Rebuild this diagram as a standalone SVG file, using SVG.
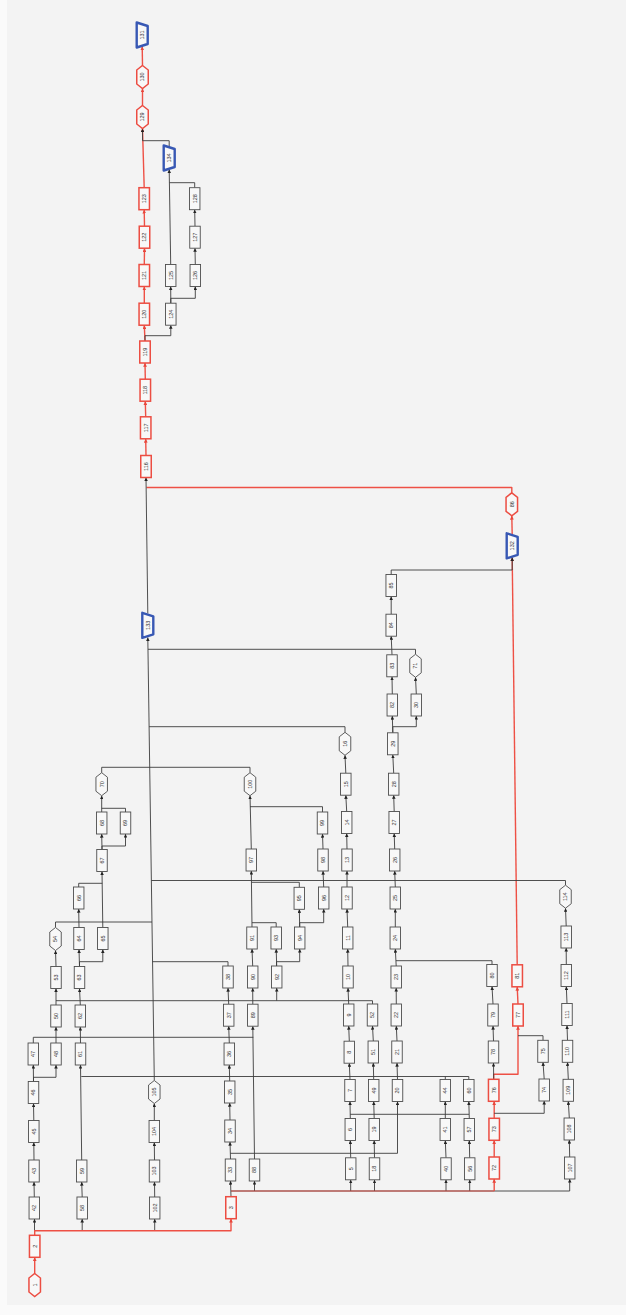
<svg xmlns="http://www.w3.org/2000/svg" xmlns:xlink="http://www.w3.org/1999/xlink" width="626" height="1315" viewBox="0 0 626 1315">
<style>
.e{fill:none;stroke:#3c3c3c;stroke-width:.9;stroke-linejoin:round;marker-end:url(#ak)}
.j{fill:none;stroke:#3c3c3c;stroke-width:.9;stroke-linejoin:round}
.re{fill:none;stroke:#ee5045;stroke-width:1.4;stroke-linejoin:round;marker-end:url(#ar)}
.rj{fill:none;stroke:#ee5045;stroke-width:1.4;stroke-linejoin:round}
.nb{fill:#f8f8f8;stroke:#4d4d4d;stroke-width:.9}
.nr{fill:#f8f8f8;stroke:#ec4d42;stroke-width:1.5}
.nt{fill:#f8f8f8;stroke:#3858b4;stroke-width:2.4;stroke-linejoin:round}
text{font-family:"Liberation Sans",Arial,sans-serif;font-size:5.5px;fill:#333;text-anchor:middle}
</style>
<defs>
<marker id="ak" viewBox="0 0 6 6" refX="6" refY="3" markerWidth="3.6" markerHeight="3.6" markerUnits="userSpaceOnUse" orient="auto"><path d="M0,0 L6,3 L0,6 z" fill="#222"/></marker>
<marker id="ar" viewBox="0 0 6 6" refX="6" refY="3" markerWidth="3.8" markerHeight="3.8" markerUnits="userSpaceOnUse" orient="auto"><path d="M0,0 L6,3 L0,6 z" fill="#e8463b"/></marker>
<rect id="bx" x="-5.25" y="-11" width="10.5" height="22"/>
<polygon id="hx" points="0,-11.5 5.75,-7 5.75,7 0,11.5 -5.75,7 -5.75,-7"/>
<polygon id="tp" points="-5.5,-12.5 5.5,-9 5.5,9 -5.5,12.5"/>
</defs>
<rect width="626" height="1315" fill="#fafafa"/>
<rect x="7" y="0" width="619" height="1305" fill="#f3f3f3"/>
<g id="connectors">
<!-- red path -->
<path class="re" d="M34.7,1273.5 V1257.3"/>
<path class="e" d="M34.5,1230.7 V1219"/>
<path class="e" d="M82.2,1230.7 V1219"/>
<path class="e" d="M154.7,1230.7 V1219"/>
<path class="re" d="M34.7,1235.3 V1230.7 H231 V1218.7"/>
<path class="e" d="M231,1196.7 L230.5,1181"/>
<path class="e" d="M231,1191 H569.7 V1179"/>
<path class="e" d="M254.5,1191 V1181"/>
<path class="e" d="M350.7,1191 V1179.8"/>
<path class="e" d="M374.5,1191 V1179.8"/>
<path class="e" d="M446,1191 V1179.8"/>
<path class="e" d="M469.7,1191 V1179.8"/>
<path d="M231,1191 H494.2" fill="none" stroke="#e8463b" stroke-width="1.3" stroke-opacity=".55"/>
<path class="re" d="M494.2,1191 V1179"/>
<path class="re" d="M494.2,1157 V1140.3"/>
<path class="re" d="M494.2,1118.3 V1101.3"/>
<path class="re" d="M493.7,1079.3 V1074.3 H518 V1026"/>
<path class="re" d="M518,1004 L517.2,986.8"/>
<path class="re" d="M517.2,964.8 L512.2,557.5"/>
<path class="re" d="M512.2,534.8 L511.8,515.8"/>
<path class="rj" d="M511.8,492.8 V487.5 H146.5"/>
<path class="re" d="M146,455.5 L145.7,438.8"/>
<path class="re" d="M145.7,416.8 L145.3,401.2"/>
<path class="re" d="M145.3,379.2 L145,363"/>
<path class="re" d="M145,341 L144.3,325.2"/>
<path class="re" d="M144.3,303.2 V286.5"/>
<path class="re" d="M144.3,264.5 L144.5,248.2"/>
<path class="re" d="M144.5,226.2 L144.2,209.7"/>
<path class="re" d="M144.2,187.7 L142.5,128.5"/>
<path class="re" d="M142.5,105.5 V88.5"/>
<path class="re" d="M142.5,65.5 L142.2,46.5"/>
<!-- column 34 / 56 / 80 / 102 -->
<path class="e" d="M34.3,1197 L34,1182"/>
<path class="e" d="M34,1160 L33.8,1142.5"/>
<path class="e" d="M33.8,1120.5 L33.5,1103.5"/>
<path class="e" d="M33.5,1081.5 L33.3,1065"/>
<path class="e" d="M33.5,1081.5 V1077.3 H56 V1065"/>
<path class="j" d="M33.3,1043 V1037.3 H253.3"/>
<path class="e" d="M56,1043 V1027"/>
<path class="e" d="M56,1005 V988.5"/>
<path class="j" d="M372.5,1004 V1000.7 H56"/>
<path class="e" d="M276.7,1000.7 V988"/>
<path class="e" d="M56,966.5 L55.5,950.5"/>
<path class="j" d="M55.5,927.5 V922 H152"/>
<path class="e" d="M82.2,1197 L81.7,1182"/>
<path class="e" d="M81.7,1160 L80.5,1065"/>
<path class="j" d="M468.8,1079.5 V1076.5 H81.3 M445.3,1079.5 V1076.5"/>
<path class="e" d="M80.5,1043 L80.3,1027"/>
<path class="e" d="M80.3,1005 L79.5,988.5"/>
<path class="e" d="M79.5,966.5 L79,949.5"/>
<path class="e" d="M79.5,966.5 V961.7 H102.8 V949.5"/>
<path class="e" d="M79,927.5 L78.7,909"/>
<path class="j" d="M78.7,887 V883.3 H102.3"/>
<path class="e" d="M102.8,927.5 L102,871.5"/>
<path class="e" d="M102,849.5 L101.7,834"/>
<path class="e" d="M102,849.5 V846 H125.5 V834"/>
<path class="e" d="M101.7,812 V795.7"/>
<path class="j" d="M125.5,812 V808.3 H101.7"/>
<path class="j" d="M101.7,772.7 V767.3 H250 V772.7"/>
<!-- main column -->
<path class="e" d="M154.7,1197 L154.5,1182"/>
<path class="e" d="M154.5,1160 L154.3,1142.5"/>
<path class="e" d="M154.3,1120.5 V1103.5"/>
<path class="e" d="M154.3,1080.5 L147.8,637.5"/>
<path class="e" d="M147.8,613.5 L146,477.5"/>
<path class="j" d="M415.5,654.3 V649.3 H148"/>
<path class="j" d="M345,732.3 V726.7 H149.1"/>
<path class="j" d="M565.5,885.2 V880.5 H151.4"/>
<path class="j" d="M228,966 V961.7 H152.6"/>
<!-- column 230 / 254 / 276 / 299 / 323 -->
<path class="e" d="M230.5,1159 L230,1142"/>
<path class="e" d="M230.3,1153.3 H397.5 V1101.5"/>
<path class="e" d="M230,1120 L229.7,1103"/>
<path class="e" d="M229.7,1081 L229.3,1065"/>
<path class="e" d="M229.3,1043 L228.7,1026.2"/>
<path class="e" d="M228.7,1004.2 L228,988"/>
<path class="e" d="M254.5,1159 L252.8,1026.2"/>
<path class="e" d="M252.8,1004.2 L252.7,988"/>
<path class="e" d="M252.7,966 L252,949"/>
<path class="e" d="M252,927 L251.3,871"/>
<path class="j" d="M276.2,927 V922.7 H252"/>
<path class="j" d="M299.3,887.3 V882.3 H251.6"/>
<path class="e" d="M251.3,849 L250,795.7"/>
<path class="e" d="M276.7,966 L276.2,949"/>
<path class="e" d="M276.5,966 V961.7 H299.7 V949"/>
<path class="e" d="M299.7,927 L299.3,909.3"/>
<path class="e" d="M299.7,927 V922.7 H323.7 V909"/>
<path class="e" d="M323.7,887 L323,871"/>
<path class="e" d="M323,849 L322.5,834"/>
<path class="j" d="M322.5,812 V806.7 H250"/>
<!-- column 348 -->
<path class="e" d="M350.7,1157.8 L350.3,1140.5"/>
<path class="e" d="M350.3,1118.5 L350,1101.5"/>
<path class="j" d="M350.2,1114.3 H469"/>
<path class="e" d="M350,1079.5 L349.3,1063.2"/>
<path class="e" d="M349.3,1041.2 L348.7,1026"/>
<path class="e" d="M348.7,1004 L348,988"/>
<path class="e" d="M348,966 L347.7,949"/>
<path class="e" d="M347.7,927 L347,909"/>
<path class="e" d="M347,887 V871"/>
<path class="e" d="M347,849 L346.7,833.5"/>
<path class="e" d="M346.7,811.5 L345.8,795.2"/>
<path class="e" d="M345.8,773.2 L345,755.3"/>
<!-- column 373 -->
<path class="e" d="M374.5,1157.8 L374.2,1140.5"/>
<path class="e" d="M374.2,1118.5 L373.7,1101.5"/>
<path class="e" d="M373.7,1079.5 L373.3,1063"/>
<path class="e" d="M373.3,1041 L372.5,1026"/>
<!-- column 396 -->
<path class="e" d="M397.5,1079.5 L397,1063"/>
<path class="e" d="M397,1041 L396.3,1026"/>
<path class="e" d="M396.3,1004 L396.2,988"/>
<path class="e" d="M396.2,966 L395.3,949"/>
<path class="j" d="M492,964.5 V960.7 H396"/>
<path class="e" d="M395.3,927 V909"/>
<path class="e" d="M395.3,887 L394.7,871"/>
<path class="e" d="M394.7,849 L394.2,833.5"/>
<path class="e" d="M394.2,811.5 L393.7,795.2"/>
<path class="e" d="M393.7,773.2 L392.8,754.8"/>
<path class="e" d="M392.8,732.8 L392.3,716"/>
<path class="e" d="M392.8,732.8 V726.7 H416.3 V716"/>
<path class="e" d="M392.3,694 L392,676.8"/>
<path class="e" d="M392,654.8 L391.2,636.2"/>
<path class="e" d="M391.2,614.2 V596.5"/>
<path class="e" d="M391.2,574.5 V570 H512.2 V557.5"/>
<path class="e" d="M416.3,694 L415.5,677.3"/>
<!-- column 445 / 469 -->
<path class="e" d="M446,1157.8 L445.3,1140.5"/>
<path class="e" d="M445.3,1118.5 V1101.5"/>
<path class="e" d="M469.7,1157.8 L469.3,1140.5"/>
<path class="e" d="M469.3,1118.5 L468.8,1101.5"/>
<!-- column 494 / 543 -->
<path class="e" d="M494.2,1113.3 H544.2 V1101"/>
<path class="e" d="M544.2,1079 L543,1062.3"/>
<path class="j" d="M543,1040.3 V1035.7 H518"/>
<path class="e" d="M493.7,1079.3 L493.5,1063"/>
<path class="e" d="M493.5,1041 L493,1026"/>
<path class="e" d="M493,1004 L492,986.5"/>
<!-- column 567 -->
<path class="e" d="M569.7,1157 L569.3,1140"/>
<path class="e" d="M569.3,1118 L568.3,1101.3"/>
<path class="e" d="M568.3,1079.3 L567.5,1062.3"/>
<path class="e" d="M567.5,1040.3 L567,1025.5"/>
<path class="e" d="M567,1003.5 L566.3,986.5"/>
<path class="e" d="M566.3,964.5 L566.2,948"/>
<path class="e" d="M566.2,926 L565.5,908.2"/>
<!-- top area -->
<path class="e" d="M169.2,147 V140.7 H142.5 V128.5"/>
<path class="e" d="M145,341 V335.7 H170.8 V325.2"/>
<path class="e" d="M170.8,303.2 L170.7,286.5"/>
<path class="e" d="M170.8,303.2 V298.3 H195.3 V286.5"/>
<path class="e" d="M195.3,264.5 L195,248.2"/>
<path class="e" d="M195,226.2 L194.7,209.7"/>
<path class="j" d="M194.7,187.7 V182.7 H169.5"/>
<path class="e" d="M170.7,264.5 L169.2,169.5"/>
</g>
<g id="nodes">
<g id="n1" transform="translate(34.7,1285)"><use href="#hx" class="nr"/><text transform="rotate(-90)" y="1.9">1</text></g>
<g id="n2" transform="translate(34.7,1246.3)"><use href="#bx" class="nr"/><text transform="rotate(-90)" y="1.9">2</text></g>
<g id="n3" transform="translate(231,1207.7)"><use href="#bx" class="nr"/><text transform="rotate(-90)" y="1.9">3</text></g>
<g id="n42" transform="translate(34.3,1208)"><use href="#bx" class="nb"/><text transform="rotate(-90)" y="1.9">42</text></g>
<g id="n43" transform="translate(34,1171)"><use href="#bx" class="nb"/><text transform="rotate(-90)" y="1.9">43</text></g>
<g id="n45" transform="translate(33.8,1131.5)"><use href="#bx" class="nb"/><text transform="rotate(-90)" y="1.9">45</text></g>
<g id="n46" transform="translate(33.5,1092.5)"><use href="#bx" class="nb"/><text transform="rotate(-90)" y="1.9">46</text></g>
<g id="n47" transform="translate(33.3,1054)"><use href="#bx" class="nb"/><text transform="rotate(-90)" y="1.9">47</text></g>
<g id="n48" transform="translate(56,1054)"><use href="#bx" class="nb"/><text transform="rotate(-90)" y="1.9">48</text></g>
<g id="n50" transform="translate(56,1016)"><use href="#bx" class="nb"/><text transform="rotate(-90)" y="1.9">50</text></g>
<g id="n53" transform="translate(56,977.5)"><use href="#bx" class="nb"/><text transform="rotate(-90)" y="1.9">53</text></g>
<g id="n54" transform="translate(55.5,939)"><use href="#hx" class="nb"/><text transform="rotate(-90)" y="1.9">54</text></g>
<g id="n58" transform="translate(82.2,1208)"><use href="#bx" class="nb"/><text transform="rotate(-90)" y="1.9">58</text></g>
<g id="n59" transform="translate(81.7,1171)"><use href="#bx" class="nb"/><text transform="rotate(-90)" y="1.9">59</text></g>
<g id="n61" transform="translate(80.5,1054)"><use href="#bx" class="nb"/><text transform="rotate(-90)" y="1.9">61</text></g>
<g id="n62" transform="translate(80.3,1016)"><use href="#bx" class="nb"/><text transform="rotate(-90)" y="1.9">62</text></g>
<g id="n63" transform="translate(79.5,977.5)"><use href="#bx" class="nb"/><text transform="rotate(-90)" y="1.9">63</text></g>
<g id="n64" transform="translate(79,938.5)"><use href="#bx" class="nb"/><text transform="rotate(-90)" y="1.9">64</text></g>
<g id="n66" transform="translate(78.7,898)"><use href="#bx" class="nb"/><text transform="rotate(-90)" y="1.9">66</text></g>
<g id="n65" transform="translate(102.8,938.5)"><use href="#bx" class="nb"/><text transform="rotate(-90)" y="1.9">65</text></g>
<g id="n67" transform="translate(102,860.5)"><use href="#bx" class="nb"/><text transform="rotate(-90)" y="1.9">67</text></g>
<g id="n68" transform="translate(101.7,823)"><use href="#bx" class="nb"/><text transform="rotate(-90)" y="1.9">68</text></g>
<g id="n69" transform="translate(125.5,823)"><use href="#bx" class="nb"/><text transform="rotate(-90)" y="1.9">69</text></g>
<g id="n70" transform="translate(101.7,784.2)"><use href="#hx" class="nb"/><text transform="rotate(-90)" y="1.9">70</text></g>
<g id="n102" transform="translate(154.7,1208)"><use href="#bx" class="nb"/><text transform="rotate(-90)" y="1.9">102</text></g>
<g id="n103" transform="translate(154.5,1171)"><use href="#bx" class="nb"/><text transform="rotate(-90)" y="1.9">103</text></g>
<g id="n104" transform="translate(154.3,1131.5)"><use href="#bx" class="nb"/><text transform="rotate(-90)" y="1.9">104</text></g>
<g id="n105" transform="translate(154.3,1092)"><use href="#hx" class="nb"/><text transform="rotate(-90)" y="1.9">105</text></g>
<g id="n33" transform="translate(230.5,1170)"><use href="#bx" class="nb"/><text transform="rotate(-90)" y="1.9">33</text></g>
<g id="n34" transform="translate(230,1131)"><use href="#bx" class="nb"/><text transform="rotate(-90)" y="1.9">34</text></g>
<g id="n35" transform="translate(229.7,1092)"><use href="#bx" class="nb"/><text transform="rotate(-90)" y="1.9">35</text></g>
<g id="n36" transform="translate(229.3,1054)"><use href="#bx" class="nb"/><text transform="rotate(-90)" y="1.9">36</text></g>
<g id="n37" transform="translate(228.7,1015.2)"><use href="#bx" class="nb"/><text transform="rotate(-90)" y="1.9">37</text></g>
<g id="n38" transform="translate(228,977)"><use href="#bx" class="nb"/><text transform="rotate(-90)" y="1.9">38</text></g>
<g id="n88" transform="translate(254.5,1170)"><use href="#bx" class="nb"/><text transform="rotate(-90)" y="1.9">88</text></g>
<g id="n89" transform="translate(252.8,1015.2)"><use href="#bx" class="nb"/><text transform="rotate(-90)" y="1.9">89</text></g>
<g id="n90" transform="translate(252.7,977)"><use href="#bx" class="nb"/><text transform="rotate(-90)" y="1.9">90</text></g>
<g id="n91" transform="translate(252,938)"><use href="#bx" class="nb"/><text transform="rotate(-90)" y="1.9">91</text></g>
<g id="n97" transform="translate(251.3,860)"><use href="#bx" class="nb"/><text transform="rotate(-90)" y="1.9">97</text></g>
<g id="n100" transform="translate(250,784.2)"><use href="#hx" class="nb"/><text transform="rotate(-90)" y="1.9">100</text></g>
<g id="n92" transform="translate(276.7,977)"><use href="#bx" class="nb"/><text transform="rotate(-90)" y="1.9">92</text></g>
<g id="n93" transform="translate(276.2,938)"><use href="#bx" class="nb"/><text transform="rotate(-90)" y="1.9">93</text></g>
<g id="n94" transform="translate(299.7,938)"><use href="#bx" class="nb"/><text transform="rotate(-90)" y="1.9">94</text></g>
<g id="n95" transform="translate(299.3,898.3)"><use href="#bx" class="nb"/><text transform="rotate(-90)" y="1.9">95</text></g>
<g id="n96" transform="translate(323.7,898)"><use href="#bx" class="nb"/><text transform="rotate(-90)" y="1.9">96</text></g>
<g id="n98" transform="translate(323,860)"><use href="#bx" class="nb"/><text transform="rotate(-90)" y="1.9">98</text></g>
<g id="n99" transform="translate(322.5,823)"><use href="#bx" class="nb"/><text transform="rotate(-90)" y="1.9">99</text></g>
<g id="n5" transform="translate(350.7,1168.8)"><use href="#bx" class="nb"/><text transform="rotate(-90)" y="1.9">5</text></g>
<g id="n6" transform="translate(350.3,1129.5)"><use href="#bx" class="nb"/><text transform="rotate(-90)" y="1.9">6</text></g>
<g id="n7" transform="translate(350,1090.5)"><use href="#bx" class="nb"/><text transform="rotate(-90)" y="1.9">7</text></g>
<g id="n8" transform="translate(349.3,1052.2)"><use href="#bx" class="nb"/><text transform="rotate(-90)" y="1.9">8</text></g>
<g id="n9" transform="translate(348.7,1015)"><use href="#bx" class="nb"/><text transform="rotate(-90)" y="1.9">9</text></g>
<g id="n10" transform="translate(348,977)"><use href="#bx" class="nb"/><text transform="rotate(-90)" y="1.9">10</text></g>
<g id="n11" transform="translate(347.7,938)"><use href="#bx" class="nb"/><text transform="rotate(-90)" y="1.9">11</text></g>
<g id="n12" transform="translate(347,898)"><use href="#bx" class="nb"/><text transform="rotate(-90)" y="1.9">12</text></g>
<g id="n13" transform="translate(347,860)"><use href="#bx" class="nb"/><text transform="rotate(-90)" y="1.9">13</text></g>
<g id="n14" transform="translate(346.7,822.5)"><use href="#bx" class="nb"/><text transform="rotate(-90)" y="1.9">14</text></g>
<g id="n15" transform="translate(345.8,784.2)"><use href="#bx" class="nb"/><text transform="rotate(-90)" y="1.9">15</text></g>
<g id="n16" transform="translate(345,743.8)"><use href="#hx" class="nb"/><text transform="rotate(-90)" y="1.9">16</text></g>
<g id="n18" transform="translate(374.5,1168.8)"><use href="#bx" class="nb"/><text transform="rotate(-90)" y="1.9">18</text></g>
<g id="n19" transform="translate(374.2,1129.5)"><use href="#bx" class="nb"/><text transform="rotate(-90)" y="1.9">19</text></g>
<g id="n49" transform="translate(373.7,1090.5)"><use href="#bx" class="nb"/><text transform="rotate(-90)" y="1.9">49</text></g>
<g id="n51" transform="translate(373.3,1052)"><use href="#bx" class="nb"/><text transform="rotate(-90)" y="1.9">51</text></g>
<g id="n52" transform="translate(372.5,1015)"><use href="#bx" class="nb"/><text transform="rotate(-90)" y="1.9">52</text></g>
<g id="n20" transform="translate(397.5,1090.5)"><use href="#bx" class="nb"/><text transform="rotate(-90)" y="1.9">20</text></g>
<g id="n21" transform="translate(397,1052)"><use href="#bx" class="nb"/><text transform="rotate(-90)" y="1.9">21</text></g>
<g id="n22" transform="translate(396.3,1015)"><use href="#bx" class="nb"/><text transform="rotate(-90)" y="1.9">22</text></g>
<g id="n23" transform="translate(396.2,977)"><use href="#bx" class="nb"/><text transform="rotate(-90)" y="1.9">23</text></g>
<g id="n24" transform="translate(395.3,938)"><use href="#bx" class="nb"/><text transform="rotate(-90)" y="1.9">24</text></g>
<g id="n25" transform="translate(395.3,898)"><use href="#bx" class="nb"/><text transform="rotate(-90)" y="1.9">25</text></g>
<g id="n26" transform="translate(394.7,860)"><use href="#bx" class="nb"/><text transform="rotate(-90)" y="1.9">26</text></g>
<g id="n27" transform="translate(394.2,822.5)"><use href="#bx" class="nb"/><text transform="rotate(-90)" y="1.9">27</text></g>
<g id="n28" transform="translate(393.7,784.2)"><use href="#bx" class="nb"/><text transform="rotate(-90)" y="1.9">28</text></g>
<g id="n29" transform="translate(392.8,743.8)"><use href="#bx" class="nb"/><text transform="rotate(-90)" y="1.9">29</text></g>
<g id="n82" transform="translate(392.3,705)"><use href="#bx" class="nb"/><text transform="rotate(-90)" y="1.9">82</text></g>
<g id="n83" transform="translate(392,665.8)"><use href="#bx" class="nb"/><text transform="rotate(-90)" y="1.9">83</text></g>
<g id="n84" transform="translate(391.2,625.2)"><use href="#bx" class="nb"/><text transform="rotate(-90)" y="1.9">84</text></g>
<g id="n85" transform="translate(391.2,585.5)"><use href="#bx" class="nb"/><text transform="rotate(-90)" y="1.9">85</text></g>
<g id="n30" transform="translate(416.3,705)"><use href="#bx" class="nb"/><text transform="rotate(-90)" y="1.9">30</text></g>
<g id="n71" transform="translate(415.5,665.8)"><use href="#hx" class="nb"/><text transform="rotate(-90)" y="1.9">71</text></g>
<g id="n40" transform="translate(446,1168.8)"><use href="#bx" class="nb"/><text transform="rotate(-90)" y="1.9">40</text></g>
<g id="n41" transform="translate(445.3,1129.5)"><use href="#bx" class="nb"/><text transform="rotate(-90)" y="1.9">41</text></g>
<g id="n44" transform="translate(445.3,1090.5)"><use href="#bx" class="nb"/><text transform="rotate(-90)" y="1.9">44</text></g>
<g id="n56" transform="translate(469.7,1168.8)"><use href="#bx" class="nb"/><text transform="rotate(-90)" y="1.9">56</text></g>
<g id="n57" transform="translate(469.3,1129.5)"><use href="#bx" class="nb"/><text transform="rotate(-90)" y="1.9">57</text></g>
<g id="n60" transform="translate(468.8,1090.5)"><use href="#bx" class="nb"/><text transform="rotate(-90)" y="1.9">60</text></g>
<g id="n72" transform="translate(494.2,1168)"><use href="#bx" class="nr"/><text transform="rotate(-90)" y="1.9">72</text></g>
<g id="n73" transform="translate(494.2,1129.3)"><use href="#bx" class="nr"/><text transform="rotate(-90)" y="1.9">73</text></g>
<g id="n76" transform="translate(493.7,1090.3)"><use href="#bx" class="nr"/><text transform="rotate(-90)" y="1.9">76</text></g>
<g id="n78" transform="translate(493.5,1052)"><use href="#bx" class="nb"/><text transform="rotate(-90)" y="1.9">78</text></g>
<g id="n79" transform="translate(493,1015)"><use href="#bx" class="nb"/><text transform="rotate(-90)" y="1.9">79</text></g>
<g id="n80" transform="translate(492,975.5)"><use href="#bx" class="nb"/><text transform="rotate(-90)" y="1.9">80</text></g>
<g id="n77" transform="translate(518,1015)"><use href="#bx" class="nr"/><text transform="rotate(-90)" y="1.9">77</text></g>
<g id="n81" transform="translate(517.2,975.8)"><use href="#bx" class="nr"/><text transform="rotate(-90)" y="1.9">81</text></g>
<g id="n74" transform="translate(544.2,1090)"><use href="#bx" class="nb"/><text transform="rotate(-90)" y="1.9">74</text></g>
<g id="n75" transform="translate(543,1051.3)"><use href="#bx" class="nb"/><text transform="rotate(-90)" y="1.9">75</text></g>
<g id="n107" transform="translate(569.7,1168)"><use href="#bx" class="nb"/><text transform="rotate(-90)" y="1.9">107</text></g>
<g id="n108" transform="translate(569.3,1129)"><use href="#bx" class="nb"/><text transform="rotate(-90)" y="1.9">108</text></g>
<g id="n109" transform="translate(568.3,1090.3)"><use href="#bx" class="nb"/><text transform="rotate(-90)" y="1.9">109</text></g>
<g id="n110" transform="translate(567.5,1051.3)"><use href="#bx" class="nb"/><text transform="rotate(-90)" y="1.9">110</text></g>
<g id="n111" transform="translate(567,1014.5)"><use href="#bx" class="nb"/><text transform="rotate(-90)" y="1.9">111</text></g>
<g id="n112" transform="translate(566.3,975.5)"><use href="#bx" class="nb"/><text transform="rotate(-90)" y="1.9">112</text></g>
<g id="n113" transform="translate(566.2,937)"><use href="#bx" class="nb"/><text transform="rotate(-90)" y="1.9">113</text></g>
<g id="n114" transform="translate(565.5,896.7)"><use href="#hx" class="nb"/><text transform="rotate(-90)" y="1.9">114</text></g>
<g id="n132" transform="translate(512.2,545.8)"><use href="#tp" class="nt"/><text transform="rotate(-90)" y="1.9">132</text></g>
<g id="n86" transform="translate(511.8,504.3)"><use href="#hx" class="nr"/><text transform="rotate(-90)" y="1.9">86</text></g>
<g id="n133" transform="translate(147.8,625.3)"><use href="#tp" class="nt"/><text transform="rotate(-90)" y="1.9">133</text></g>
<g id="n116" transform="translate(146,466.5)"><use href="#bx" class="nr"/><text transform="rotate(-90)" y="1.9">116</text></g>
<g id="n117" transform="translate(145.7,427.8)"><use href="#bx" class="nr"/><text transform="rotate(-90)" y="1.9">117</text></g>
<g id="n118" transform="translate(145.3,390.2)"><use href="#bx" class="nr"/><text transform="rotate(-90)" y="1.9">118</text></g>
<g id="n119" transform="translate(145,352)"><use href="#bx" class="nr"/><text transform="rotate(-90)" y="1.9">119</text></g>
<g id="n120" transform="translate(144.3,314.2)"><use href="#bx" class="nr"/><text transform="rotate(-90)" y="1.9">120</text></g>
<g id="n121" transform="translate(144.3,275.5)"><use href="#bx" class="nr"/><text transform="rotate(-90)" y="1.9">121</text></g>
<g id="n122" transform="translate(144.5,237.2)"><use href="#bx" class="nr"/><text transform="rotate(-90)" y="1.9">122</text></g>
<g id="n123" transform="translate(144.2,198.7)"><use href="#bx" class="nr"/><text transform="rotate(-90)" y="1.9">123</text></g>
<g id="n129" transform="translate(142.5,117)"><use href="#hx" class="nr"/><text transform="rotate(-90)" y="1.9">129</text></g>
<g id="n130" transform="translate(142.5,77)"><use href="#hx" class="nr"/><text transform="rotate(-90)" y="1.9">130</text></g>
<g id="n131" transform="translate(142.2,35)"><use href="#tp" class="nt"/><text transform="rotate(-90)" y="1.9">131</text></g>
<g id="n124" transform="translate(170.8,314.2)"><use href="#bx" class="nb"/><text transform="rotate(-90)" y="1.9">124</text></g>
<g id="n125" transform="translate(170.7,275.5)"><use href="#bx" class="nb"/><text transform="rotate(-90)" y="1.9">125</text></g>
<g id="n134" transform="translate(169.2,158)"><use href="#tp" class="nt"/><text transform="rotate(-90)" y="1.9">134</text></g>
<g id="n126" transform="translate(195.3,275.5)"><use href="#bx" class="nb"/><text transform="rotate(-90)" y="1.9">126</text></g>
<g id="n127" transform="translate(195,237.2)"><use href="#bx" class="nb"/><text transform="rotate(-90)" y="1.9">127</text></g>
<g id="n128" transform="translate(194.7,198.7)"><use href="#bx" class="nb"/><text transform="rotate(-90)" y="1.9">128</text></g>
</g>
</svg>
